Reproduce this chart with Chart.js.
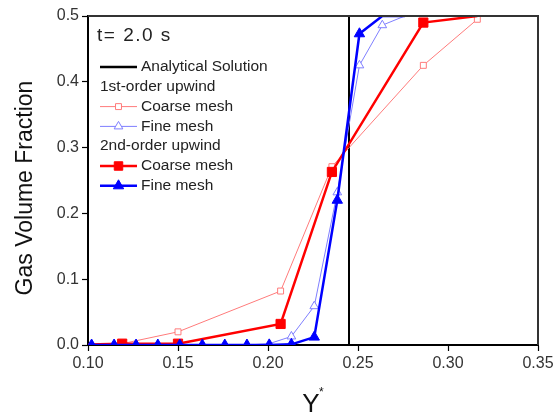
<!DOCTYPE html>
<html>
<head>
<meta charset="utf-8">
<script src="https://cdn.jsdelivr.net/npm/chart.js@4/dist/chart.umd.min.js"></script>
<style>
  html, body { margin: 0; padding: 0; background: #fff; }
  #wrap { width: 558px; height: 414px; position: relative; }
</style>
</head>
<body>
<div id="wrap"><canvas id="chart"></canvas></div>
<script>
// Y* positions of the grid cells
const coarseX = [0.088, 0.119, 0.150, 0.207, 0.2355, 0.2863, 0.3163];
const fineX = [0.102, 0.1145, 0.1267, 0.1388, 0.151, 0.1635, 0.176, 0.1883, 0.2007, 0.213, 0.2257, 0.2385, 0.2508, 0.2635, 0.276];

// gas volume fraction
const coarse1st = [0.000, 0.002, 0.020, 0.082, 0.271, 0.425, 0.495];
const coarse2nd = [0.000, 0.002, 0.002, 0.032, 0.263, 0.490, 0.500];
const fine1st = [0, 0, 0, 0, 0, 0, 0, 0, 0.002, 0.013, 0.059, 0.232, 0.425, 0.486, 0.500];
const fine2nd = [0, 0, 0, 0, 0, 0, 0, 0, 0, 0.001, 0.012, 0.220, 0.473, 0.500, 0.500];

// analytical step
const exactX = [0.10, 0.245, 0.245, 0.35];
const exactY = [0.0, 0.0, 0.5, 0.5];

const xTicks = [0.10, 0.15, 0.20, 0.25, 0.30, 0.35];
const yTicks = [0.0, 0.1, 0.2, 0.3, 0.4, 0.5];

const FONT = '"Liberation Sans", Arial, sans-serif';
const LIGHT_RED = '#ff7b7b';
const LIGHT_BLUE = '#7f7fff';

function pts(xs, ys) {
  return xs.map((x, i) => ({ x: x, y: ys[i] }));
}

// no marker where the curve sits on the top border
function radii(ys, r) {
  return ys.map(y => (y >= 0.5 ? 0 : r));
}

const clipArea = { left: 0, top: 0, right: 0, bottom: 0 };

const datasets = [
  {
    label: '2nd-order Fine mesh',
    data: pts(fineX, fine2nd),
    borderColor: '#0000ff', backgroundColor: '#0000ff',
    borderWidth: 2.5, pointStyle: 'triangle', pointRadius: radii(fine2nd, 6),
    pointBorderWidth: 1, clip: clipArea
  },
  {
    label: '2nd-order Coarse mesh',
    data: pts(coarseX, coarse2nd),
    borderColor: '#ff0000', backgroundColor: '#ff0000',
    borderWidth: 2.5, pointStyle: 'rect', pointRadius: radii(coarse2nd, 6.5),
    pointBorderWidth: 1, clip: clipArea
  },
  {
    label: '1st-order Fine mesh',
    data: pts(fineX, fine1st),
    borderColor: LIGHT_BLUE, backgroundColor: '#fff',
    borderWidth: 1, pointStyle: 'triangle', pointRadius: radii(fine1st, 5),
    pointBorderWidth: 1, clip: clipArea
  },
  {
    label: '1st-order Coarse mesh',
    data: pts(coarseX, coarse1st),
    borderColor: LIGHT_RED, backgroundColor: '#fff',
    borderWidth: 1, pointStyle: 'rect', pointRadius: radii(coarse1st, 4.2),
    pointBorderWidth: 1, clip: clipArea
  },
  {
    label: 'Analytical Solution',
    data: pts(exactX, exactY),
    borderColor: '#000', borderWidth: 2, pointRadius: 0, clip: clipArea
  }
];

// legend entries, drawn inside the plot
const legendRows = [
  { text: 'Analytical Solution', color: '#000', width: 2.5 },
  { text: '1st-order upwind' },
  { text: 'Coarse mesh', color: LIGHT_RED, width: 1, style: 'rect', r: 4.2, fill: '#fff' },
  { text: 'Fine mesh', color: LIGHT_BLUE, width: 1, style: 'triangle', r: 5, fill: '#fff' },
  { text: '2nd-order upwind' },
  { text: 'Coarse mesh', color: '#ff0000', width: 2.5, style: 'rect', r: 6, fill: '#ff0000' },
  { text: 'Fine mesh', color: '#0000ff', width: 2.5, style: 'triangle', r: 6, fill: '#0000ff' }
];

const framePlugin = {
  id: 'frame',
  afterDraw(chart) {
    const ctx = chart.ctx;
    const a = chart.chartArea;
    ctx.save();

    // top and right border
    ctx.strokeStyle = '#333';
    ctx.lineWidth = 2;
    ctx.beginPath();
    ctx.moveTo(a.left, a.top);
    ctx.lineTo(a.right, a.top);
    ctx.lineTo(a.right, a.bottom);
    ctx.stroke();

    // time label
    ctx.fillStyle = '#222';
    ctx.textBaseline = 'middle';
    ctx.textAlign = 'left';
    ctx.font = '19px ' + FONT;
    ctx.letterSpacing = '1.5px';
    ctx.fillText('t= 2.0 s', 97, 36);
    ctx.letterSpacing = '0px';

    // legend
    ctx.font = '15.5px ' + FONT;
    legendRows.forEach((row, i) => {
      const y = 67 + i * 19.8;
      if (!row.color) {
        ctx.fillStyle = '#222';
        ctx.fillText(row.text, 100, y);
        return;
      }
      ctx.strokeStyle = row.color;
      ctx.lineWidth = row.width;
      ctx.beginPath();
      ctx.moveTo(100, y);
      ctx.lineTo(137, y);
      ctx.stroke();
      if (row.style) {
        ctx.fillStyle = row.fill;
        ctx.lineWidth = 1;
        Chart.helpers.drawPoint(ctx, { pointStyle: row.style, radius: row.r, rotation: 0, borderWidth: 1 }, 118.5, y);
      }
      ctx.fillStyle = '#222';
      ctx.fillText(row.text, 141, y);
    });

    // axis titles
    ctx.fillStyle = '#111';
    ctx.save();
    ctx.translate(26, 188);
    ctx.rotate(-Math.PI / 2);
    ctx.textAlign = 'center';
    ctx.font = '23px ' + FONT;
    ctx.fillText('Gas Volume Fraction', 0, 0);
    ctx.restore();

    ctx.textAlign = 'center';
    ctx.textBaseline = 'alphabetic';
    ctx.font = '26px ' + FONT;
    ctx.fillText('Y', 311, 412);
    ctx.font = '12px ' + FONT;
    ctx.textAlign = 'left';
    ctx.fillText('*', 319, 396);

    ctx.restore();
  }
};

new Chart(document.getElementById('chart'), {
  type: 'line',
  data: { datasets: datasets },
  options: {
    responsive: true,
    maintainAspectRatio: false,
    animation: false,
    layout: { padding: { left: 0, top: 16, right: 20, bottom: 0 } },
    plugins: { legend: { display: false }, tooltip: { enabled: false } },
    elements: { line: { tension: 0 } },
    scales: {
      x: {
        type: 'linear',
        min: 0.10, max: 0.35,
        afterFit: s => { s.height = 69; },
        afterBuildTicks: s => { s.ticks = xTicks.map(v => ({ value: v })); },
        grid: { drawOnChartArea: false, drawTicks: true, tickLength: 6, color: '#000', tickWidth: 1.2 },
        border: { color: '#000', width: 2 },
        ticks: {
          color: '#333', padding: 3, maxRotation: 0,
          font: { family: FONT, size: 16 },
          callback: v => v.toFixed(2)
        }
      },
      y: {
        min: 0, max: 0.5,
        afterFit: s => { s.width = 88; },
        afterBuildTicks: s => { s.ticks = yTicks.map(v => ({ value: v })); },
        grid: { drawOnChartArea: false, drawTicks: true, tickLength: 6, color: '#000', tickWidth: 1.2 },
        border: { color: '#000', width: 2 },
        ticks: {
          color: '#333', padding: 3,
          font: { family: FONT, size: 16 },
          callback: v => v.toFixed(1)
        }
      }
    }
  },
  plugins: [framePlugin]
});
</script>
</body>
</html>
